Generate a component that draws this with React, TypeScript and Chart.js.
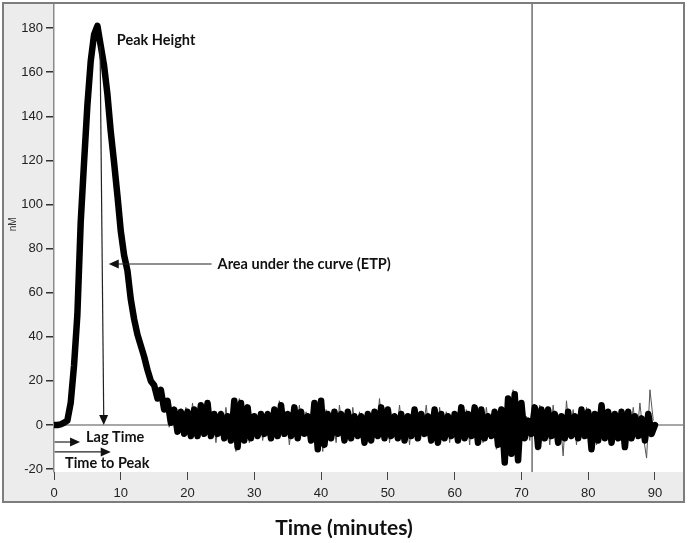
import React, { useEffect, useRef } from "react";
import { Chart, registerables } from "chart.js";

Chart.register(...registerables);

// ---- axis ranges and ticks ----
const X_MIN = 0;
const X_MAX = 94.2;
const Y_MIN = -21.3;
const Y_MAX = 190.9;
const xTickValues = [0, 10, 20, 30, 40, 50, 60, 70, 80, 90];
const yTickValues = [-20, 0, 20, 40, 60, 80, 100, 120, 140, 160, 180];

// ---- thick (averaged) thrombin trace, sampled every 0.5 min from 0 ----
const thickStart = 0;
const thickStep = 0.5;
const thickValues = [
  0, 0, 0.3, 1, 2, 10, 27, 50, 92, 119,
  145, 165, 177, 181, 172, 163, 150, 133, 119, 104,
  88, 77, 70, 57, 48, 41, 36, 31, 25, 20,
  18, 12, 16, 7, 11, 1, 7, -3, 6, -4,
  6, -5, 7, -5, 9, -4, 10, -5, 5, -4,
  5, -6, 4, -7, 11, -10, 10, -7, 8, -6,
  4, -5, 5, -4, 5, -6, 7, -5, 9, -4,
  5, -5, 8, -6, 6, -4, 4, -7, 10, -11,
  11, -9, 5, -6, 6, -4, 5, -7, 6, -6,
  4, -5, 4, -8, 5, -7, 6, -5, 8, -6,
  7, -5, 4, -6, 5, -7, 4, -5, 7, -6,
  5, -4, 4, -7, 7, -8, 5, -6, 4, -5,
  5, -7, 8, -6, 5, -5, 8, -8, 7, -6,
  4, -5, 6, -9, 7, -17, 12, -13, 14, -16,
  10, -6, 2, -4, 8, -10, 7, -6, 7, -5,
  5, -8, 4, -6, 6, -5, 4, -6, 7, -5,
  6, -11, 5, -7, 9, -6, 6, -8, 5, -6,
  6, -10, 6, -6, 4, -5, 3, -7, 5, -4,
  0,
];

// ---- thin (raw) trace, sampled every 0.5 min from 12.25 ----
const thinStart = 12.25;
const thinStep = 0.5;
const thinValues = [
  46, 40, 34, 28, 24, 20,
  14, 17, 8, 12, -1, 8, -4, 7, -2, 8,
  -3, 10, -6, 5, -3, 11, -2, 6, -8, 5,
  -5, 8, -4, 6, -12, 12, -5, 9, -8, 5,
  -4, 6, -7, 3, -4, 8, -3, 11, -5, 6,
  -9, 4, -5, 9, -3, 6, -5, 8, -9, 12,
  -12, 7, -5, 4, -8, 9, -4, 5, -7, 8,
  -4, 6, -9, 5, -6, 6, -4, 12, -5, 7,
  -8, 5, -4, 9, -6, 4, -9, 8, -5, 6,
  -3, 9, -6, 5, -9, 8, -5, 6, -8, 4,
  -4, 9, -5, 7, -9, 9, -5, 6, -8, 8,
  -4, 5, -11, 8, -14, 13, -10, 16, -13, 9,
  -4, 4, -7, 6, -8, 9, -4, 6, -9, 9,
  -4, 5, -14, 11, -5, 7, -9, 5, -4, 8,
  -7, 6, -9, 10, -4, 7, -8, 5, -6, 7,
  -11, 6, -4, 8, -6, 10, -5, -15, 16, 2,
];

// ---- reference marker and annotations (data units) ----
const markerTime = 71.6;
const peakLabel = { t: 9.4, v: 174.5, text: "Peak Height" };
const peakArrow = { t1: 6.9, v1: 172, t2: 7.45, v2: 0 };
const etpArrow = { t1: 23.6, t2: 8.2, v: 73 };
const etpLabel = { t: 24.5, v: 73, text: "Area under the curve (ETP)" };
const lagArrow = { t1: 0.1, t2: 3.9, v: -7.7 };
const lagLabel = { t: 4.8, v: -5.5, text: "Lag Time" };
const ttpArrow = { t1: 0.1, t2: 8.5, v: -12.2 };
const ttpLabel = { t: 1.65, v: -17.3, text: "Time to Peak" };
const xTitle = "Time (minutes)";
const yTitle = "nM";
const yTitleValue = 91;

const toPoints = (start: number, step: number, vals: number[]) =>
  vals.map((y, i) => ({ x: start + i * step, y }));

const ANN_FONT = "bold 14.5px Lato, 'Open Sans', sans-serif";

function arrowHead(ctx: CanvasRenderingContext2D, x: number, y: number, ang: number, len = 10, half = 4.5) {
  ctx.save();
  ctx.translate(x, y);
  ctx.rotate(ang);
  ctx.beginPath();
  ctx.moveTo(0, 0);
  ctx.lineTo(-len, -half);
  ctx.lineTo(-len, half);
  ctx.closePath();
  ctx.fill();
  ctx.restore();
}

const framePlugin = {
  id: "frame",
  beforeDraw(chart: any) {
    const { ctx, chartArea: a, width, height } = chart;
    ctx.save();
    ctx.fillStyle = "#ffffff";
    ctx.fillRect(0, 0, width, height);
    ctx.fillStyle = "#ececec";
    ctx.fillRect(3, 3, 682, 499);
    ctx.fillStyle = "#ffffff";
    ctx.fillRect(a.left, a.top, a.right - a.left, a.bottom - a.top);
    ctx.restore();
  },
  beforeDatasetsDraw(chart: any) {
    const { ctx, chartArea: a, scales } = chart;
    const xs = scales.x, ys = scales.y;
    ctx.save();
    ctx.strokeStyle = "#8a8a8a";
    ctx.lineWidth = 1.5;
    const y0 = ys.getPixelForValue(0);
    ctx.beginPath();
    ctx.moveTo(a.left, y0);
    ctx.lineTo(a.right, y0);
    ctx.stroke();
    ctx.strokeStyle = "#6e6e6e";
    ctx.lineWidth = 1.5;
    const xm = xs.getPixelForValue(markerTime);
    ctx.beginPath();
    ctx.moveTo(xm, a.top);
    ctx.lineTo(xm, a.bottom);
    ctx.stroke();
    ctx.restore();
  },
  afterDraw(chart: any) {
    const { ctx, scales, width } = chart;
    const X = (t: number) => scales.x.getPixelForValue(t);
    const Y = (v: number) => scales.y.getPixelForValue(v);
    ctx.save();
    // y title
    ctx.save();
    ctx.translate(13, Y(yTitleValue));
    ctx.rotate(-Math.PI / 2);
    ctx.fillStyle = "#333";
    ctx.font = "10px 'Liberation Sans', Arial, sans-serif";
    ctx.textAlign = "center";
    ctx.textBaseline = "middle";
    ctx.fillText(yTitle, 0, 0);
    ctx.restore();
    // annotations
    ctx.fillStyle = "#111";
    ctx.strokeStyle = "#222";
    ctx.font = ANN_FONT;
    ctx.textBaseline = "middle";
    ctx.textAlign = "left";
    ctx.fillText(peakLabel.text, X(peakLabel.t), Y(peakLabel.v));
    ctx.fillText(etpLabel.text, X(etpLabel.t), Y(etpLabel.v));
    ctx.fillText(lagLabel.text, X(lagLabel.t), Y(lagLabel.v));
    ctx.fillText(ttpLabel.text, X(ttpLabel.t), Y(ttpLabel.v));

    ctx.lineWidth = 1.2;
    // vertical peak arrow
    const px1 = X(peakArrow.t1), py1 = Y(peakArrow.v1), px2 = X(peakArrow.t2), py2 = Y(peakArrow.v2);
    ctx.beginPath();
    ctx.moveTo(px1, py1);
    ctx.lineTo(px2, py2 - 6);
    ctx.stroke();
    arrowHead(ctx, px2, py2, Math.atan2(py2 - py1, px2 - px1));
    // ETP arrow
    const ey = Y(etpArrow.v);
    ctx.beginPath();
    ctx.moveTo(X(etpArrow.t1), ey);
    ctx.lineTo(X(etpArrow.t2) + 6, ey);
    ctx.stroke();
    arrowHead(ctx, X(etpArrow.t2), ey, Math.PI);
    // lag arrow
    const ly = Y(lagArrow.v);
    ctx.beginPath();
    ctx.moveTo(X(lagArrow.t1), ly);
    ctx.lineTo(X(lagArrow.t2) - 6, ly);
    ctx.stroke();
    arrowHead(ctx, X(lagArrow.t2), ly, 0);
    // time to peak arrow
    const ty = Y(ttpArrow.v);
    ctx.beginPath();
    ctx.moveTo(X(ttpArrow.t1), ty);
    ctx.lineTo(X(ttpArrow.t2) - 6, ty);
    ctx.stroke();
    arrowHead(ctx, X(ttpArrow.t2), ty, 0);

    // outer frame
    ctx.strokeStyle = "#7d7d7d";
    ctx.lineWidth = 2;
    ctx.strokeRect(3, 3, 681, 499);

    // x title
    ctx.fillStyle = "#111";
    ctx.font = "bold 21px Lato, 'Open Sans', sans-serif";
    ctx.textAlign = "center";
    ctx.fillText(xTitle, width / 2, 528);
    ctx.restore();
  },
};

export default function App() {
  const ref = useRef<HTMLCanvasElement | null>(null);
  useEffect(() => {
    if (!ref.current) return;
    const chart = new Chart(ref.current, {
      type: "line",
      data: {
        datasets: [
          {
            label: "mean",
            data: toPoints(thickStart, thickStep, thickValues),
            borderColor: "#000000",
            borderWidth: 6.5,
            pointRadius: 0,
            tension: 0,
            borderJoinStyle: "round",
            borderCapStyle: "round",
          },
          {
            label: "raw",
            data: toPoints(thinStart, thinStep, thinValues),
            borderColor: "#555555",
            borderWidth: 1,
            pointRadius: 0,
            tension: 0,
          },
        ],
      },
      options: {
        animation: false,
        responsive: false,
        devicePixelRatio: 1,
        parsing: true,
        layout: { padding: { left: 3, top: 4, right: 5, bottom: 41 } },
        plugins: { legend: { display: false }, tooltip: { enabled: false } },
        scales: {
          x: {
            type: "linear",
            min: X_MIN,
            max: X_MAX,
            afterFit: (s: any) => { s.height = 30; s.paddingLeft = 0; s.paddingRight = 0; },
            afterBuildTicks: (s: any) => { s.ticks = xTickValues.map((v) => ({ value: v })); },
            border: { display: false },
            grid: { display: true, drawOnChartArea: false, drawTicks: true, tickLength: 8, tickColor: "#444", lineWidth: 1 },
            ticks: { color: "#222", padding: 6, maxRotation: 0, font: { family: "'Liberation Sans', Arial, sans-serif", size: 13 } },
          },
          y: {
            type: "linear",
            min: Y_MIN,
            max: Y_MAX,
            afterFit: (s: any) => { s.width = 51; s.paddingTop = 0; s.paddingBottom = 0; },
            afterBuildTicks: (s: any) => { s.ticks = yTickValues.map((v) => ({ value: v })); },
            border: { display: true, color: "#8a8a8a", width: 1.5 },
            grid: { display: true, drawOnChartArea: false, drawTicks: true, tickLength: 8, tickColor: "#333", lineWidth: 1.5 },
            ticks: { color: "#222", padding: 3, font: { family: "'Liberation Sans', Arial, sans-serif", size: 13 } },
          },
        },
      },
      plugins: [framePlugin],
    } as any);
    return () => chart.destroy();
  }, []);
  return (
    <div style={{ position: "absolute", left: 0, top: 0, width: 688, height: 543 }}>
      <canvas ref={ref} width={688} height={543} style={{ width: 688, height: 543 }} />
    </div>
  );
}
